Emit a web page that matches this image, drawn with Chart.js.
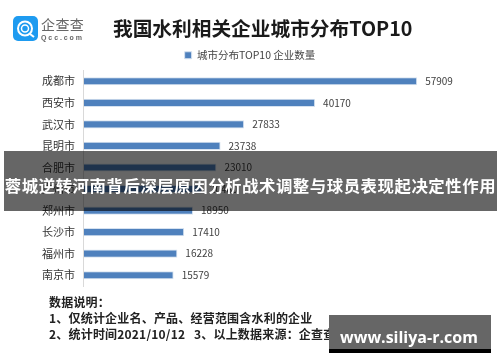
<!DOCTYPE html>
<html lang="zh">
<head>
<meta charset="utf-8">
<script src="https://cdn.jsdelivr.net/npm/chart.js@4"></script>
<style>
	html, body { margin: 0; padding: 0; background: #fff; }
	#wrap {
		position: relative;
		width: 500px;
		height: 362px;
		overflow: hidden;
		font-family: "Noto Sans CJK SC", sans-serif;
	}
	#myChart { position: absolute; left: 0; top: 0; }
	.txt { position: absolute; white-space: pre; }
	#logo { position: absolute; left: 13px; top: 16px; }
	#logoName { left: 41px; top: 14px; font-size: 14px; line-height: 20px; color: #666; letter-spacing: 0.4px; }
	#logoUrl { left: 41px; top: 33px; font-size: 7px; line-height: 9px; font-weight: 700; color: #666; letter-spacing: 1.9px; font-family: "Liberation Sans", sans-serif; }
	#title { left: 113px; top: 14px; font-size: 19.7px; line-height: 28px; font-weight: 700; color: #1a1a1a; }
	#note { left: 49px; top: 294px; font-size: 12px; line-height: 16px; font-weight: 700; color: #222; letter-spacing: 0.2px; }
	#band { position: absolute; left: 4px; top: 151px; width: 493px; height: 60px; background: rgba(0, 0, 0, 0.6); }
	#bandText { left: 4px; top: 173px; width: 493px; text-align: center; font-size: 16.4px; letter-spacing: 0.55px; line-height: 24px; font-weight: 700; color: #fff; overflow: hidden; }
	#mark { position: absolute; left: 329px; top: 315px; width: 162px; height: 34px; background: #666; border-bottom: 4px solid #000; }
	#markText { left: 340px; top: 325px; font-size: 16px; line-height: 24px; font-weight: 700; color: #fff; font-family: "Open Sans", sans-serif; }
</style>
</head>
<body>
<div id="wrap">
	<canvas id="myChart" width="500" height="362"></canvas>

	<svg id="logo" width="25" height="25" viewBox="0 0 25 25">
		<rect width="25" height="25" rx="5" fill="#1e9bf0"></rect>
		<circle cx="12" cy="12.5" r="7" fill="none" stroke="#fff" stroke-width="2"></circle>
		<circle cx="12" cy="12.5" r="3.5" fill="none" stroke="#fff" stroke-width="1.5"></circle>
		<path d="M17 18 L21 21" stroke="#fff" stroke-width="2"></path>
	</svg>
	<div class="txt" id="logoName">企查查</div>
	<div class="txt" id="logoUrl">Qcc.com</div>
	<div class="txt" id="title">我国水利相关企业城市分布TOP10</div>
	<div class="txt" id="note"></div>

	<div id="band"></div>
	<div class="txt" id="bandText">蓉城逆转河南背后深层原因分析战术调整与球员表现起决定性作用</div>
	<div id="mark"></div>
	<div class="txt" id="markText">www.siliya-r.com</div>
</div>

<script>
	// данные
	const cities = ["成都市", "西安市", "武汉市", "昆明市", "合肥市", "广州市", "郑州市", "长沙市", "福州市", "南京市"];
	const counts = [57909, 40170, 27833, 23738, 23010, 20480, 18950, 17410, 16228, 15579];
	const seriesName = "城市分布TOP10 企业数量";
	const noteLines = [
		"数据说明：",
		"1、仅统计企业名、产品、经营范围含水利的企业",
		"2、统计时间2021/10/12   3、以上数据来源：企查查",
	];

	document.getElementById("note").textContent = noteLines.join("\n");

	// подписи значений справа от полос
	const valueLabels = {
		id: "valueLabels",
		afterDatasetsDraw(chart) {
			const { ctx } = chart;
			const meta = chart.getDatasetMeta(0);
			ctx.save();
			ctx.font = '10px "Noto Sans CJK SC"';
			ctx.fillStyle = "#404040";
			ctx.textAlign = "left";
			ctx.textBaseline = "middle";
			meta.data.forEach((bar, idx) => {
				ctx.fillText(counts[idx], bar.x + 8, bar.y);
			});
			ctx.restore();
		},
	};

	const ctx = document.getElementById("myChart");

	new Chart(ctx, {
		type: "bar",
		data: {
			labels: cities,
			datasets: [
				{
					label: seriesName,
					data: counts,
					backgroundColor: "#4f81bd",
					borderColor: "#d6e2f0",
					borderWidth: 1,
					barPercentage: 0.38,
					categoryPercentage: 1,
				},
			],
		},
		options: {
			indexAxis: "y",
			responsive: false,
			animation: false,
			layout: {
				padding: { top: 44, left: 33, right: 33, bottom: 76 },
			},
			scales: {
				x: {
					display: false,
					min: 0,
					max: 66570,
				},
				y: {
					grid: { display: false, drawTicks: false },
					border: { color: "#d9d9d9", width: 1 },
					ticks: {
						color: "#333",
						padding: 9,
						font: { size: 11, family: '"Noto Sans CJK SC"' },
					},
				},
			},
			plugins: {
				legend: {
					display: true,
					position: "top",
					labels: {
						boxWidth: 7,
						boxHeight: 7,
						padding: 6,
						color: "#444",
						font: { size: 10.5, family: '"Noto Sans CJK SC"' },
					},
				},
				tooltip: { enabled: false },
			},
		},
		plugins: [valueLabels],
	});
</script>
</body>
</html>
